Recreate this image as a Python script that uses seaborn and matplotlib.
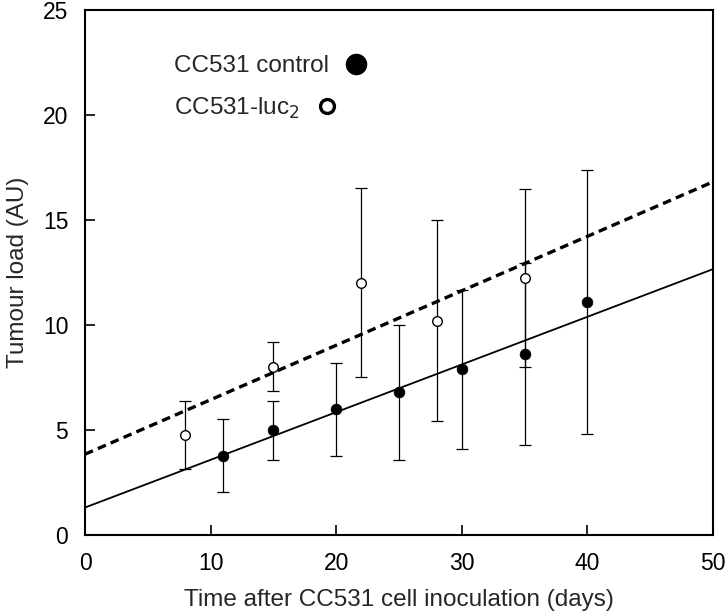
import matplotlib
matplotlib.use("Agg")
import matplotlib.pyplot as plt
from matplotlib.lines import Line2D
import seaborn as sns
import pandas as pd

# ---- data ----
control_days = [11, 15, 20, 25, 30, 35, 40]
control_load = [3.78, 4.98, 5.98, 6.79, 7.89, 8.60, 11.10]
control_err = [1.73, 1.42, 2.22, 3.20, 3.80, 4.33, 6.30]

luc2_days = [8, 15, 22, 28, 35]
luc2_load = [4.76, 8.02, 12.02, 10.21, 12.24]
luc2_err = [1.60, 1.17, 4.50, 4.80, 4.22]

x_ticks = [0, 10, 20, 30, 40, 50]
y_ticks = [0, 5, 10, 15, 20, 25]
label_control = "CC531 control"
label_luc2 = "CC531-luc$_2$"
x_title = "Time after CC531 cell inoculation (days)"
y_title = "Tumour load (AU)"

ctrl = pd.DataFrame({"day": control_days, "load": control_load, "err": control_err})
luc = pd.DataFrame({"day": luc2_days, "load": luc2_load, "err": luc2_err})

sns.set_theme(style="ticks")
plt.rcParams["font.family"] = ["Liberation Sans", "DejaVu Sans"]

fig = plt.figure(figsize=(7.28, 6.14), dpi=100)
ax = fig.add_axes([85 / 728, (614 - 535) / 614, (713 - 85) / 728, (535 - 10) / 614])
ax.set_xlim(0, 50)
ax.set_ylim(0, 25)

# regression lines (fit from data, extended across axis)
sns.regplot(data=ctrl, x="day", y="load", ax=ax, scatter=False, ci=None,
            truncate=False, color="black", line_kws=dict(lw=1.3, zorder=2))
sns.regplot(data=luc, x="day", y="load", ax=ax, scatter=False, ci=None,
            truncate=False, color="black",
            line_kws=dict(lw=2.4, ls=(0, (2.6, 1.6)), zorder=2))

# error bars
ax.errorbar(ctrl["day"], ctrl["load"], yerr=ctrl["err"], fmt="none",
            ecolor="black", elinewidth=0.9, capsize=4, capthick=0.9, zorder=3)
ax.errorbar(luc["day"], luc["load"], yerr=luc["err"], fmt="none",
            ecolor="black", elinewidth=0.9, capsize=4, capthick=0.9, zorder=3)

# points
sns.scatterplot(data=ctrl, x="day", y="load", ax=ax, color="black", s=60,
                edgecolor="black", linewidth=0.5, zorder=4, legend=False)
sns.scatterplot(data=luc, x="day", y="load", ax=ax, color="white", s=48,
                edgecolor="black", linewidth=1.0, zorder=4, legend=False)

ax.set_xlim(0, 50)
ax.set_ylim(0, 25)
ax.set_xticks(x_ticks)
ax.set_yticks(y_ticks)
ax.tick_params(direction="in", length=7, width=1.2, labelsize=16.5,
               colors="black", pad=12, top=False, right=False)
for s in ax.spines.values():
    s.set_linewidth(1.5)
    s.set_color("black")
ax.set_xlabel(x_title, fontsize=17.5, labelpad=10)
ax.set_ylabel(y_title, fontsize=17.5, labelpad=10)

# legends: marker after text
h1 = Line2D([], [], ls="none", marker="o", markersize=14.5, color="black")
h2 = Line2D([], [], ls="none", marker="o", markersize=10, markerfacecolor="white",
            markeredgecolor="black", markeredgewidth=2.4)
leg1 = ax.legend([h1], [label_control], loc="center left",
                 bbox_to_anchor=(0.142, 0.893), frameon=False, markerfirst=False,
                 borderpad=0, borderaxespad=0, handlelength=1.0, handletextpad=0.6,
                 fontsize=17.5)
ax.add_artist(leg1)
ax.legend([h2], [label_luc2], loc="center left",
          bbox_to_anchor=(0.142, 0.813), frameon=False, markerfirst=False,
          borderpad=0, borderaxespad=0, handlelength=1.0, handletextpad=0.6,
          fontsize=17.5)

fig.savefig("out.png", dpi=100)
